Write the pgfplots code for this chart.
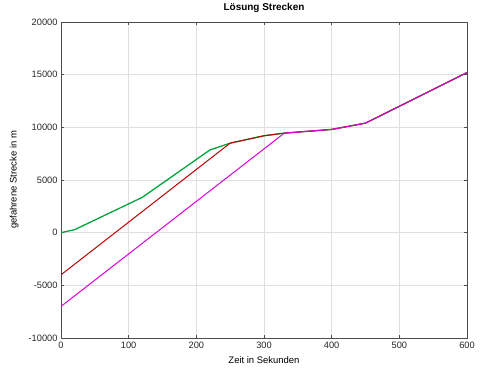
\documentclass[border=0pt]{standalone}
\usepackage{fontspec}
\setmainfont{Liberation Sans}
\usepackage{pgfplots}
\pgfplotsset{compat=1.18}
\definecolor{cgreen}{RGB}{0,165,60}
\definecolor{cred}{RGB}{190,0,0}
\definecolor{cmag}{RGB}{220,0,220}
\begin{document}
\begin{tikzpicture}[x=1bp,y=1bp]
\path[use as bounding box] (-61,-37) rectangle (439,338);
\begin{axis}[
  at={(0,0)}, anchor=south west,
  scale only axis, width=406bp, height=316bp,
  xmin=0, xmax=600, ymin=-10000, ymax=20000,
  xtick={0,100,...,600}, ytick={-10000,-5000,...,20000},
  grid=major, major grid style={gray!25, line width=0.6pt},
  axis line style={black!70, line width=0.8pt},
  tick style={black!70, line width=0.8pt}, tick align=inside,
  major tick length=3bp,
  font=\fontsize{9.5}{11}\selectfont,
  tick label style={font=\fontsize{9.3}{11}\selectfont, black!85},
  xticklabel style={yshift=-1bp},
  /pgf/number format/assume math mode=true,
  /pgf/number format/1000 sep={},
  scaled ticks=false,
  title={\textbf{Lösung Strecken}},
  title style={at={(0.5,1)}, anchor=south, yshift=0bp, font=\fontsize{10}{12}\selectfont},
  xlabel={Zeit in Sekunden},
  ylabel={gefahrene Strecke in m},
  xlabel style={at={(0.5,0)}, anchor=north, yshift=-15bp},
  ylabel style={at={(0,0.5)}, anchor=south, yshift=39bp},
  every axis plot/.append style={line join=round},
]
\addplot[cgreen, line width=1.3pt, mark=none] coordinates {
(0,0) (20,280) (120,3350) (220,7850) (250,8500) (300,9200) (330,9450) (400,9800) (450,10400) (600,15200)};
\addplot[cred, line width=1.0pt, mark=none] coordinates {
(0,-4000) (250,8500) (300,9200) (330,9450) (400,9800) (450,10400) (600,15200)};
\addplot[cmag, line width=1.0pt, mark=none] coordinates {
(0,-7000) (330,9450) (400,9800) (450,10400) (600,15200)};
\end{axis}
\end{tikzpicture}
\end{document}
